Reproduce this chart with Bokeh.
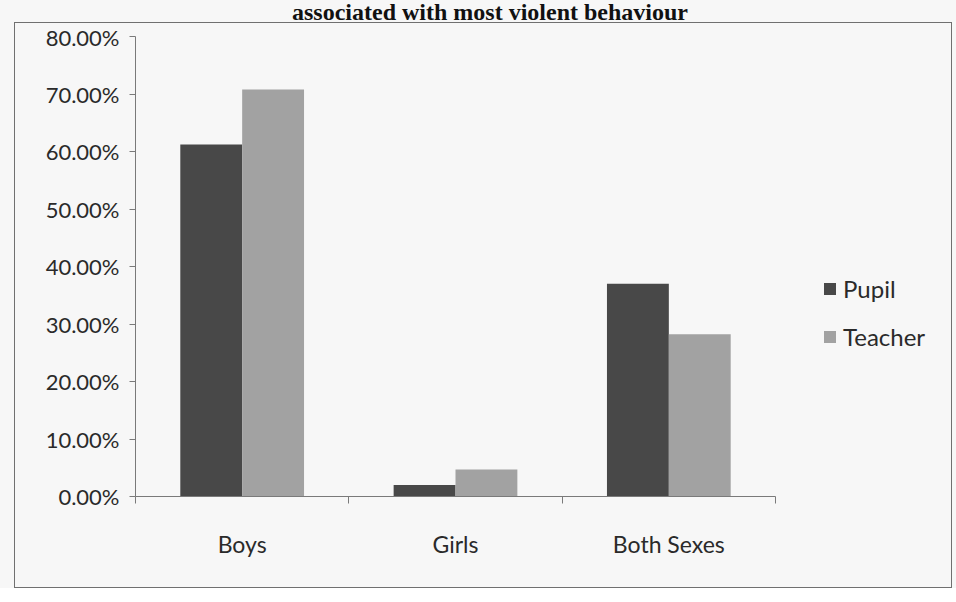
import numpy as np
from bokeh.plotting import figure
from bokeh.layouts import column
from bokeh.models import (Range1d, FixedTicker, NumeralTickFormatter, Legend, LegendItem,
                          ColumnDataSource, CustomJSTickFormatter, Div)
from bokeh.transform import dodge
from bokeh.embed import file_html
from bokeh.resources import INLINE

# ---- data ----
categories = ["Boys", "Girls", "Both Sexes"]
pupil = [0.612, 0.020, 0.370]
teacher = [0.708, 0.047, 0.282]
series_names = ["Pupil", "Teacher"]
y_ticks = [0.0, 0.1, 0.2, 0.3, 0.4, 0.5, 0.6, 0.7, 0.8]
title_text = "associated with most violent behaviour"

# ---- layout constants ----
W, H = 938, 566
B_LEFT, B_RIGHT, B_TOP, B_BOTTOM = 120, 10, 13, 93
frame_w = W - B_LEFT - B_RIGHT
cat_span_px = 640.0            # pixel width of the 3 categories
x_end = len(categories) * frame_w / cat_span_px
y_max = 0.8

FONT = "Lato"
PUPIL_C = "#484848"
TEACHER_C = "#a2a2a2"
AXIS_C = "#7a7a7a"
TEXT_C = "#2a2a2a"
BG = "#f7f7f7"

x_idx = np.arange(len(categories)) + 0.5
src = ColumnDataSource(dict(x=x_idx, pupil=pupil, teacher=teacher))

p = figure(width=W, height=H, output_backend="svg", toolbar_location=None,
           x_range=Range1d(0, x_end), y_range=Range1d(0, y_max),
           min_border_left=B_LEFT, min_border_right=B_RIGHT,
           min_border_top=B_TOP, min_border_bottom=B_BOTTOM)
p.margin = (0, 0, 0, 14)
p.styles = {"border": "1.5px solid #707070"}
p.background_fill_color = BG
p.border_fill_color = BG
p.outline_line_color = None
p.xgrid.visible = False
p.ygrid.visible = False

bw = 0.29
r1 = p.vbar(x=dodge("x", -bw / 2, range=p.x_range), top="pupil", width=bw, source=src,
            fill_color=PUPIL_C, line_color=None)
r2 = p.vbar(x=dodge("x", bw / 2, range=p.x_range), top="teacher", width=bw, source=src,
            fill_color=TEACHER_C, line_color=None)

# y axis
ya = p.yaxis[0]
ya.ticker = FixedTicker(ticks=y_ticks, minor_ticks=[])
ya.formatter = NumeralTickFormatter(format="0.00%")
ya.bounds = (0, y_max)
ya.axis_line_color = AXIS_C
ya.major_tick_line_color = AXIS_C
ya.major_tick_out = 6
ya.major_tick_in = 0
ya.major_label_standoff = 10
ya.major_label_text_font = FONT
ya.major_label_text_font_size = "22px"
ya.major_label_text_color = TEXT_C

# x axis
xa = p.xaxis[0]
xa.ticker = FixedTicker(ticks=list(x_idx), minor_ticks=list(range(len(categories) + 1)))
xa.formatter = CustomJSTickFormatter(args=dict(labels=categories),
                                     code="return labels[Math.floor(tick)] || '';")
xa.bounds = (0, len(categories))
xa.axis_line_color = AXIS_C
xa.major_tick_line_color = None
xa.major_tick_out = 0
xa.major_tick_in = 0
xa.minor_tick_line_color = AXIS_C
xa.minor_tick_out = 7
xa.minor_tick_in = 0
xa.major_label_standoff = 26
xa.major_label_text_font = FONT
xa.major_label_text_font_size = "23px"
xa.major_label_text_color = TEXT_C

legend = Legend(items=[LegendItem(label=series_names[0], renderers=[r1]),
                       LegendItem(label=series_names[1], renderers=[r2])],
                location=(687, 145), glyph_width=15, glyph_height=15,
                label_height=24, spacing=19, label_standoff=6, padding=10, margin=0,
                label_text_font=FONT, label_text_font_size="24px",
                label_text_color=TEXT_C, background_fill_alpha=0, border_line_color=None)
p.add_layout(legend)

title = Div(text=title_text, width=940, height=22, margin=(0, 0, 0, 20),
            styles={"font-family": "Liberation Serif", "font-weight": "bold",
                    "font-size": "24px", "line-height": "24px", "text-align": "center",
                    "white-space": "nowrap", "color": "#111111"})

layout = column(title, p, spacing=0, styles={"background-color": BG})

open("out.html", "w").write(file_html(layout, INLINE))
